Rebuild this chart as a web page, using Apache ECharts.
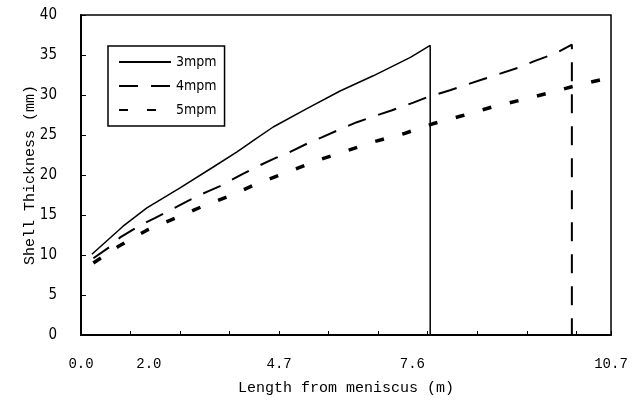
<!DOCTYPE html>
<html>
<head>
<meta charset="utf-8">
<script src="https://cdn.jsdelivr.net/npm/echarts@6/dist/echarts.min.js"></script>
<style>
html,body{margin:0;padding:0;background:#fff;}
#chart{width:643px;height:407px;}
</style>
</head>
<body>
<div id="chart"></div>
<script>
// ---- data ----
var seriesNames = ['3mpm', '4mpm', '5mpm'];

var x3 = [0.22, 0.85, 1.33, 2.0, 2.67, 3.15, 3.55, 3.88, 4.56, 5.23, 5.9, 6.65, 7.05, 7.05];
var y3 = [10.1, 13.6, 15.9, 18.4, 21.0, 22.9, 24.6, 26.0, 28.3, 30.5, 32.4, 34.7, 36.2, 0];

var x4 = [0.25, 0.59, 0.79, 1.19, 1.5, 1.86, 2.17, 2.54, 2.84, 3.21, 3.52, 3.92, 4.19, 4.59, 4.86, 5.26, 5.57, 5.97, 6.28, 6.71, 6.98, 7.45, 7.69, 8.13, 8.43, 8.87, 9.14, 9.58, 9.91, 9.91];
var y4 = [9.6, 11.05, 12.2, 13.7, 14.65, 15.8, 16.8, 17.9, 18.7, 19.95, 20.95, 22.1, 22.8, 24.0, 24.7, 25.8, 26.6, 27.45, 28.1, 29.05, 29.7, 30.6, 31.1, 32.0, 32.6, 33.5, 34.2, 35.2, 36.3, 0];

var x5 = [0.25, 0.75, 1.33, 1.9, 2.44, 3.01, 3.58, 4.19, 4.76, 5.35, 5.94, 6.51, 7.1, 7.69, 8.3, 8.9, 9.47, 10.01, 10.7];
var y5 = [9.0, 11.05, 13.1, 14.6, 16.05, 17.4, 19.0, 20.4, 21.8, 23.0, 24.2, 25.15, 26.4, 27.4, 28.5, 29.4, 30.3, 31.2, 32.2];

// x tick labels and where they sit on the axis
var xTickLabels = ['0.0', '2.0', '4.7', '7.6', '10.7'];
var xTickPositions = [0, 1.37, 4.0, 6.69, 10.7];

var yTicks = [0, 5, 10, 15, 20, 25, 30, 35, 40];

function pairs(xs, ys) {
  return xs.map(function (x, i) { return [x, ys[i]]; });
}

var monoFont = '"Liberation Mono", "DejaVu Sans Mono", monospace';
var narrowFont = '"Liberation Sans Narrow", "DejaVu Sans Condensed", "Liberation Sans", sans-serif';

var chart = echarts.init(document.getElementById('chart'));
chart.setOption({
  backgroundColor: '#ffffff',
  animation: false,
  grid: {
    left: 81, right: 32, top: 15, bottom: 72,
    show: true, borderColor: '#000', borderWidth: 1.5, backgroundColor: 'transparent'
  },
  legend: {
    orient: 'vertical',
    left: 108, top: 46,
    padding: [9, 8, 9, 10],
    itemWidth: 52, itemHeight: 14, itemGap: 10,
    borderColor: '#000', borderWidth: 1.5,
    data: seriesNames,
    itemStyle: { opacity: 0 },
    textStyle: { fontFamily: narrowFont, fontSize: 14, color: '#000' }
  },
  xAxis: {
    type: 'value',
    min: 0, max: 10.7, interval: 1,
    name: 'Length from meniscus (m)',
    nameLocation: 'middle',
    nameMoveOverlap: false,
    nameGap: 46,
    nameTextStyle: { fontFamily: monoFont, fontSize: 15, color: '#000' },
    axisLine: { lineStyle: { color: '#000', width: 2 } },
    axisTick: { inside: true, length: 4, lineStyle: { color: '#000', width: 1 } },
    axisLabel: {
      customValues: xTickPositions,
      margin: 22,
      fontFamily: monoFont, fontSize: 14, color: '#000',
      formatter: function (v) {
        var i = xTickPositions.indexOf(v);
        return i >= 0 ? xTickLabels[i] : '';
      }
    },
    splitLine: { show: false }
  },
  yAxis: {
    type: 'value',
    min: 0, max: 40, interval: 5,
    name: 'Shell Thickness (mm)',
    nameLocation: 'middle',
    nameMoveOverlap: false,
    nameGap: 43,
    nameTextStyle: { fontFamily: monoFont, fontSize: 15, color: '#000' },
    axisLine: { show: true, lineStyle: { color: '#000', width: 2 } },
    axisTick: { show: true, inside: true, length: 5, lineStyle: { color: '#000', width: 1 } },
    axisLabel: {
      margin: 24,
      fontFamily: narrowFont, fontSize: 15, color: '#000',
      formatter: function (v) { return yTicks.indexOf(v) >= 0 ? String(v) : ''; }
    },
    splitLine: { show: false }
  },
  series: [
    {
      name: seriesNames[0], type: 'line', symbol: 'none',
      data: pairs(x3, y3),
      lineStyle: { color: '#000', width: 1.5, type: 'solid' },
      itemStyle: { color: '#000' }
    },
    {
      name: seriesNames[1], type: 'line', symbol: 'none',
      data: pairs(x4, y4),
      lineStyle: { color: '#000', width: 2, type: [19, 13] },
      itemStyle: { color: '#000' }
    },
    {
      name: seriesNames[2], type: 'line', symbol: 'none',
      data: pairs(x5, y5),
      lineStyle: { color: '#000', width: 3.5, type: [9, 19] },
      itemStyle: { color: '#000' }
    }
  ]
});
</script>
</body>
</html>
